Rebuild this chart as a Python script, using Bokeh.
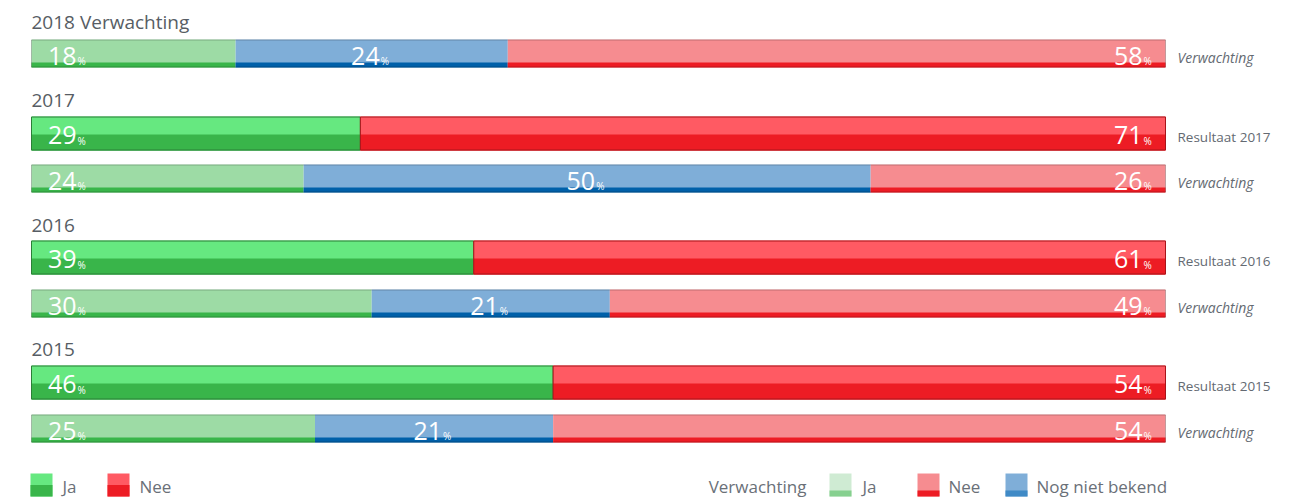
from bokeh.plotting import figure
from bokeh.models import Range1d
from bokeh.core.properties import value
from bokeh.embed import file_html
from bokeh.resources import INLINE

# ---------------- data ----------------
headings = ["2018 Verwachting", "2017", "2016", "2015"]
result_labels = [None, "Resultaat 2017", "Resultaat 2016", "Resultaat 2015"]
verw_ja = [18, 24, 30, 25]
verw_onbekend = [24, 50, 21, 21]
verw_nee = [58, 26, 49, 54]
res_ja = [None, 29, 39, 46]
res_nee = [None, 71, 61, 54]

# ---------------- styles ----------------
FONT = "Open Sans"
C_RES_JA = ("#66E880", "#39B54A", "#2A7F36")
C_RES_NEE = ("#FF5A63", "#ED1C24", "#A8141A")
C_VER_JA = ("#9DDBA5", "#39B54A")
C_VER_NEE = ("#F68C90", "#ED1C24")
C_VER_ONB = ("#7FAED8", "#0060A9")
TXT_HEAD = "#575D64"
TXT_SIDE = "#646A72"
TXT_LEG = "#6A7078"

W, H = 1306, 500
X0 = 31.0          # pixel position of 0 %
PPP = 11.34        # pixels per percent

p = figure(width=W, height=H, output_backend="svg", toolbar_location=None,
           x_range=Range1d(-X0 / PPP, (W - X0) / PPP), y_range=Range1d(H, 0),
           x_axis_type=None, y_axis_type=None, min_border=0,
           outline_line_color=None, background_fill_color="white")
p.grid.visible = False

def px(v):
    """page pixel -> data x"""
    return (v - X0) / PPP

# layout (pixel rows, top-down)
head_mid = [21.5, 100, 224.5, 349]
res_top = [None, 116, 240, 365]
verw_top = [39, 164, 289, 414]
RES_H, RES_SPLIT = 34, 18
VER_H, VER_STRIPE = 28, 5

def pct_label(x, ymid, v, off):
    p.text(x=[x], y=[ymid], text=[str(v)], x_offset=off, text_font=value(FONT),
           text_font_size="25px", text_color="white", text_align="right",
           text_baseline="middle")
    p.text(x=[x], y=[ymid + 5.5], text=["%"], x_offset=off + 1, text_font=value(FONT),
           text_font_size="10px", text_color="white", text_align="left",
           text_baseline="middle")

for i in range(len(headings)):
    p.text(x=[0], y=[head_mid[i]], text=[headings[i]], text_font=value(FONT),
           text_font_size="19px", text_color=TXT_HEAD, text_baseline="middle")

    # expectation bar
    t = verw_top[i]
    segs = [(0, verw_ja[i], C_VER_JA),
            (verw_ja[i], verw_ja[i] + verw_onbekend[i], C_VER_ONB),
            (verw_ja[i] + verw_onbekend[i], 100, C_VER_NEE)]
    for l, r, c in segs:
        if r <= l:
            continue
        p.quad(left=[l], right=[r], top=[t], bottom=[t + VER_H], fill_color=c[0], line_color=None)
        p.quad(left=[l], right=[r], top=[t + VER_H - VER_STRIPE], bottom=[t + VER_H],
               fill_color=c[1], line_color=None)
    p.quad(left=[0], right=[100], top=[t + 0.5], bottom=[t + VER_H - 0.5], fill_color=None,
           line_color="#000000", line_alpha=0.22, line_width=1)
    ym = t + 16
    pct_label(0, ym, verw_ja[i], 45)
    if verw_onbekend[i]:
        pct_label(verw_ja[i] + verw_onbekend[i] / 2, ym, verw_onbekend[i], 8)
    pct_label(100, ym, verw_nee[i], -23)
    p.text(x=[100], y=[t + 17.5], text=["Verwachting"], x_offset=12, text_font=value(FONT),
           text_font_size="14px", text_font_style="italic", text_color=TXT_SIDE,
           text_baseline="middle")

    # result bar
    if res_top[i] is not None:
        t = res_top[i]
        segs = [(0, res_ja[i], C_RES_JA), (res_ja[i], 100, C_RES_NEE)]
        for l, r, c in segs:
            p.quad(left=[l], right=[r], top=[t], bottom=[t + RES_H], fill_color=c[0], line_color=None)
            p.quad(left=[l], right=[r], top=[t + RES_SPLIT], bottom=[t + RES_H],
                   fill_color=c[1], line_color=None)
            p.quad(left=[l], right=[r], top=[t + 0.5], bottom=[t + RES_H - 0.5], fill_color=None,
                   line_color=c[2], line_width=1)
        ym = t + 18.5
        pct_label(0, ym, res_ja[i], 45)
        pct_label(100, ym, res_nee[i], -23)
        p.text(x=[100], y=[t + 20], text=[result_labels[i]], x_offset=12, text_font=value(FONT),
               text_font_size="13.5px", text_color=TXT_SIDE, text_baseline="middle")

# ---------------- legend ----------------
LT, LB = 473, 496          # square top / bottom (pixels)
LMID = 486
def swatch(x_page, top_c, bot_c, split):
    p.quad(left=[px(x_page)], right=[px(x_page + 22)], top=[LT], bottom=[LB],
           fill_color=top_c, line_color=None)
    p.quad(left=[px(x_page)], right=[px(x_page + 22)], top=[split], bottom=[LB],
           fill_color=bot_c, line_color=None)

def leg_text(x_page, s, align="left"):
    p.text(x=[px(x_page)], y=[LMID], text=[s], text_font=value(FONT), text_font_size="17px",
           text_color=TXT_LEG, text_align=align, text_baseline="middle")

swatch(30, C_RES_JA[0], C_RES_JA[1], LT + 11.5)
leg_text(62, "Ja")
swatch(107, C_RES_NEE[0], C_RES_NEE[1], LT + 11.5)
leg_text(139, "Nee")

leg_text(806, "Verwachting", "right")
swatch(829, "#CFEBD3", "#86D08F", LB - 6)
leg_text(862, "Ja")
swatch(917, C_VER_NEE[0], C_VER_NEE[1], LB - 6)
leg_text(948, "Nee")
swatch(1005, C_VER_ONB[0], "#3F8AC6", LB - 6)
leg_text(1036, "Nog niet bekend")

open("out.html", "w").write(file_html(p, INLINE))
